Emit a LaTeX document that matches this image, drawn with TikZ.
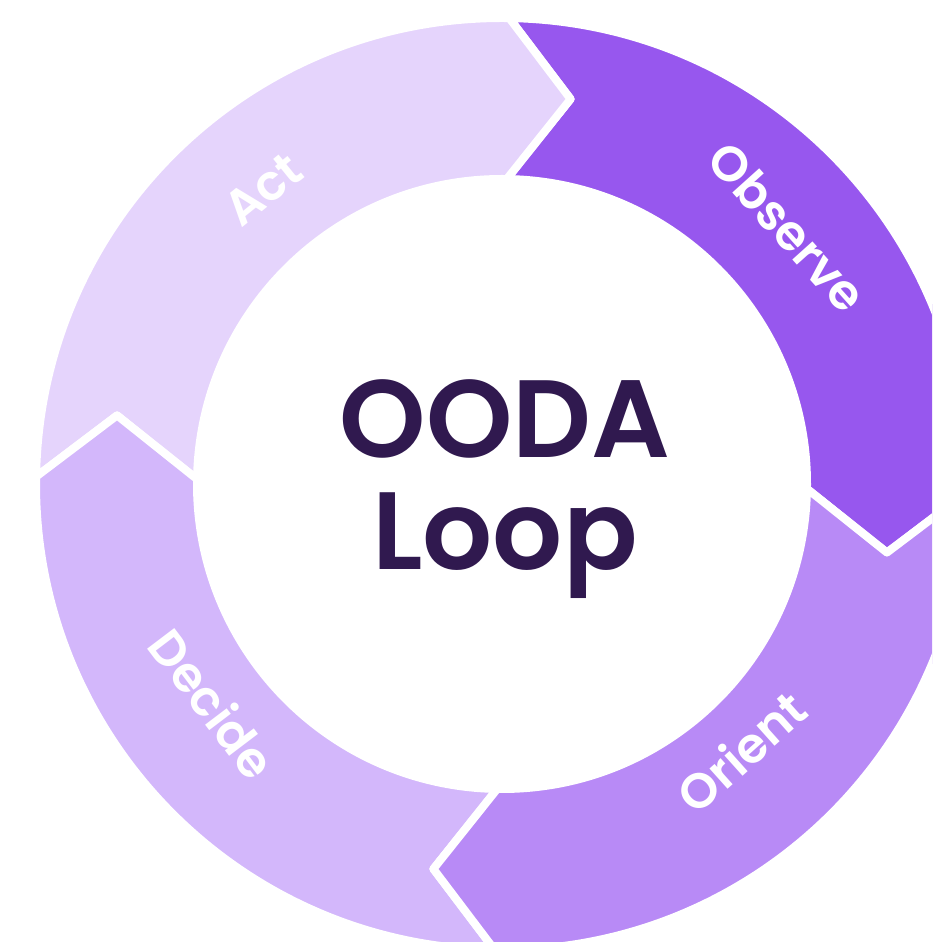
\documentclass[tikz,border=0pt]{standalone}
\usepackage{fontspec}
\newfontfamily\titlefont{Poppins SemiBold}
\newfontfamily\labelfont{Poppins SemiBold}
\definecolor{actc}{HTML}{E5D4FC}
\definecolor{obsc}{HTML}{9757EE}
\definecolor{oric}{HTML}{B88AF6}
\definecolor{decc}{HTML}{D3B7FB}
\definecolor{titlec}{HTML}{30194F}
\tikzset{
  segshape/.style={fill=#1, draw=white, line width=8pt, line join=round},
  seglabel/.style={text=white, font=\labelfont\fontsize{49}{60}\selectfont, inner sep=0pt},
  titletext/.style={text=titlec, font=\titlefont\fontsize{110}{120}\selectfont, inner sep=0pt, anchor=base}
}
\newcommand\oodaseg[2]{%
  \path[segshape=#2] (#1:466pt) arc[start angle=#1, end angle={#1+90}, radius=466pt]
    -- ({#1+90-9.2}:391pt) -- ({#1+90}:305pt)
    arc[start angle={#1+90}, end angle=#1, radius=305pt]
    -- ({#1-9.2}:391pt) -- cycle;}
\begin{document}
\begin{tikzpicture}[x=1pt,y=1pt]
\useasboundingbox (0,0) rectangle (932,942);
\fill[white] (0,0) rectangle (932,942);
\clip (0,0) rectangle (932,942);
\begin{scope}[shift={(502,458)}]
  \oodaseg{-0.9}{obsc}
  \oodaseg{89.1}{actc}
  \oodaseg{179.1}{decc}
  \oodaseg{269.1}{oric}
  \node[seglabel, rotate=39] (act) at (129:379pt) {Act};
  \node[seglabel, rotate=-48] (observe) at (42:384pt) {Observe};
  \node[seglabel, rotate=41.8] (orient) at (-48.2:359pt) {Orient};
  \node[seglabel, rotate=307.2] (decide) at (217.2:363pt) {Decide};
\end{scope}
\node[titletext] (ooda) at (505,484) {OODA};
\node[titletext] (loop) at (505,372) {Loop};
\end{tikzpicture}
\end{document}
